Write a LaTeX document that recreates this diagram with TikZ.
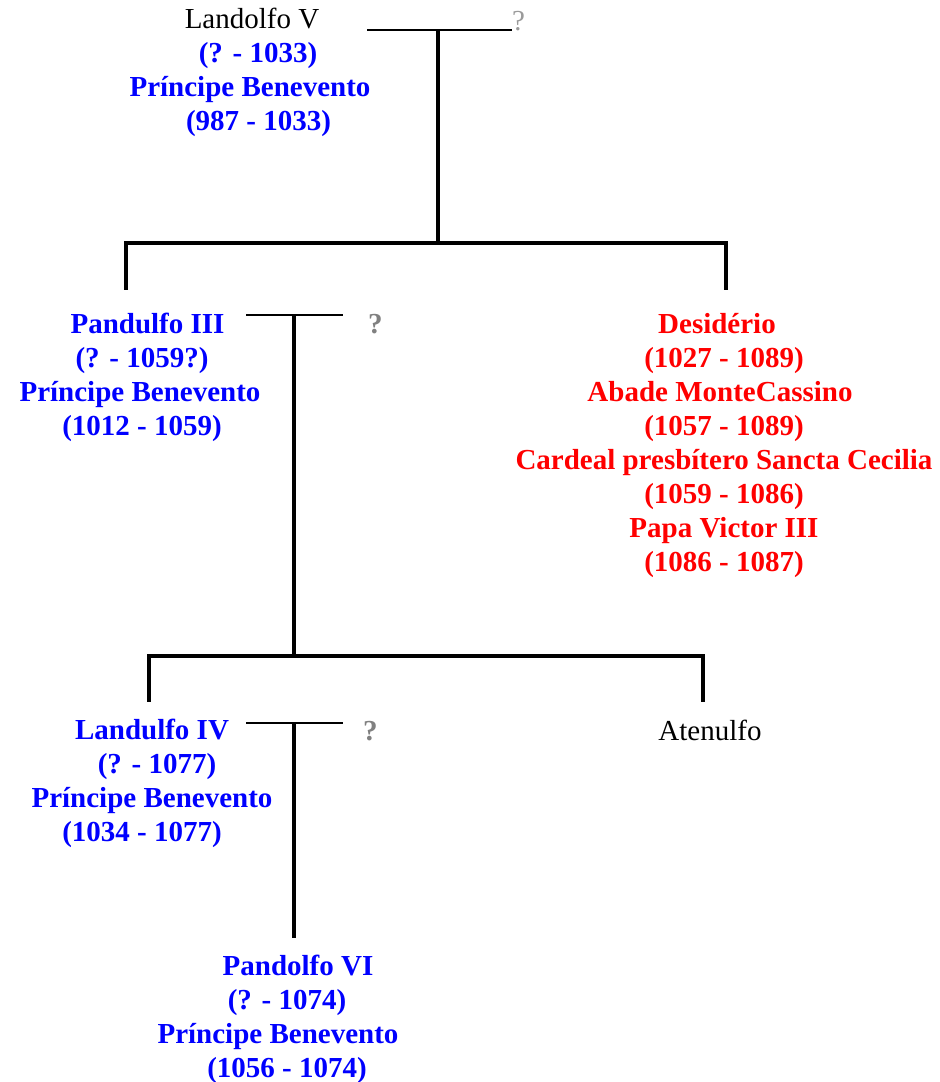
\documentclass[tikz,border=0pt]{standalone}
\usepackage{fontspec}
\setmainfont{Liberation Serif}
\definecolor{princeblue}{RGB}{0,0,255}
\definecolor{churchred}{RGB}{255,0,0}
\definecolor{unknowngray}{RGB}{128,128,128}
% invisible padding that shifts a centred line sideways
\newcommand{\padl}[1]{\rule{#1pt}{0pt}}
\begin{document}
\begin{tikzpicture}[x=1pt,y=-1pt,
  % multi-line nodes are placed by the baseline of their last line
  person/.style={align=center, inner sep=0pt, anchor=base,
    font=\fontsize{29}{34}\selectfont\bfseries, text=princeblue},
  cleric/.style={person, text=churchred},
  plain/.style={person, font=\fontsize{29}{34}\selectfont, text=black},
  spouse/.style={inner sep=0pt, anchor=base west,
    font=\fontsize{29}{34}\selectfont\bfseries, text=unknowngray},
  marriage/.style={line width=2pt},
  descent/.style={line width=3.5pt}]
\useasboundingbox (0,0) rectangle (940,1082);

% people
\node[person] (landolfo5) at (255,130)
  {{\mdseries\color{black}Landolfo V\padl{6}}\\\padl{6}(? - 1033)\\Príncipe Benevento\padl{10}\\\padl{7}(987 - 1033)};
\node[spouse, font=\fontsize{29}{34}\selectfont\mdseries, text=unknowngray!80] (q1) at (512,30) {?};

\node[person] (pandulfo3) at (142,435)
  {\padl{11}Pandulfo III\\(? - 1059?)\\Príncipe Benevento\padl{4}\\(1012 - 1059)};
\node[spouse] (q2) at (368,333) {?};

\node[cleric] (desiderio) at (724,571)
  {Desidério\padl{14}\\(1027 - 1089)\\Abade MonteCassino\padl{8}\\(1057 - 1089)\\Cardeal presbítero Sancta Cecilia\\(1059 - 1086)\\Papa Victor III\\(1086 - 1087)};

\node[person] (landulfo4) at (152,841)
  {Landulfo IV\\\padl{10}(? - 1077)\\Príncipe Benevento\\(1034 - 1077)\padl{20}};
\node[spouse] (q3) at (363,740) {?};

\node[plain] (atenulfo) at (710,740) {Atenulfo};

\node[person] (pandolfo6) at (287,1077)
  {\padl{22}Pandolfo VI\\(? - 1074)\\Príncipe Benevento\padl{18}\\(1056 - 1074)};

% first generation
\coordinate (w1) at (367,30);
\coordinate (m1) at (438,30);
\coordinate (b1) at (438,243);
\coordinate (l1) at (126,243);
\coordinate (r1) at (726,243);
\coordinate (c1) at (126,290);
\coordinate (d1) at (726,290);
\draw[marriage] (w1) -- (q1.base west);
\draw[descent] (m1) -- (b1);
\draw[descent, line cap=rect] (l1) -- (r1);
\draw[descent] (l1) -- (c1);
\draw[descent] (r1) -- (d1);

% second generation
\coordinate (w2) at (246,315);
\coordinate (e2) at (343,315);
\coordinate (m2) at (294,315);
\coordinate (b2) at (294,656);
\coordinate (l2) at (149,656);
\coordinate (r2) at (703,656);
\coordinate (c2) at (149,702);
\coordinate (d2) at (703,702);
\draw[marriage] (w2) -- (e2);
\draw[descent] (m2) -- (b2);
\draw[descent, line cap=rect] (l2) -- (r2);
\draw[descent] (l2) -- (c2);
\draw[descent] (r2) -- (d2);

% third generation
\coordinate (w3) at (246,723);
\coordinate (e3) at (343,723);
\coordinate (m3) at (294,723);
\coordinate (c3) at (294,938);
\draw[marriage] (w3) -- (e3);
\draw[descent] (m3) -- (c3);
\end{tikzpicture}
\end{document}
